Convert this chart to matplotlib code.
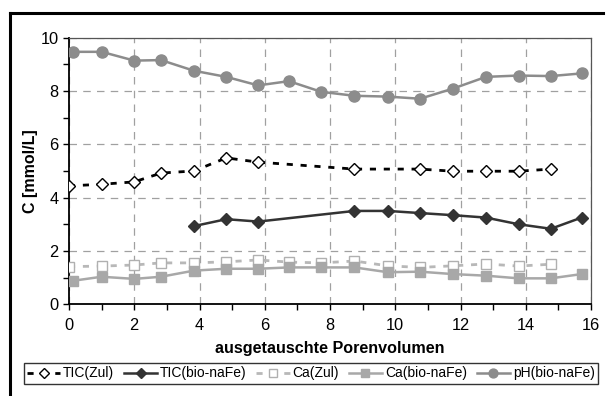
import matplotlib
matplotlib.use('Agg')
import matplotlib.pyplot as plt
from matplotlib.lines import Line2D
from matplotlib.ticker import MultipleLocator

plt.rcParams['font.family'] = ['Liberation Sans', 'DejaVu Sans']

# pore volumes exchanged
x_zul = [0, 1.0, 2.0, 2.82, 3.83, 4.82, 5.8, 8.75, 10.76, 11.77, 12.78, 13.78, 14.77]
tic_zul = [4.44, 4.5, 4.59, 4.92, 5.0, 5.49, 5.33, 5.07, 5.07, 4.99, 4.99, 4.99, 5.07]

x_tic_bio = [3.83, 4.82, 5.8, 8.75, 9.77, 10.76, 11.77, 12.78, 13.78, 14.77, 15.71]
tic_bio = [2.93, 3.19, 3.10, 3.50, 3.50, 3.42, 3.34, 3.25, 3.0, 2.83, 3.25]

x_ca_zul = [0, 1.0, 2.0, 2.82, 3.83, 4.82, 5.8, 6.74, 7.73, 8.75, 9.77, 10.76, 11.77, 12.78, 13.78, 14.77]
ca_zul = [1.41, 1.43, 1.47, 1.55, 1.55, 1.59, 1.66, 1.58, 1.55, 1.62, 1.44, 1.38, 1.44, 1.51, 1.43, 1.5]

x_bio = [0.13, 1.0, 2.0, 2.82, 3.83, 4.82, 5.8, 6.74, 7.73, 8.75, 9.77, 10.76, 11.77, 12.78, 13.78, 14.77, 15.71]
ca_bio = [0.88, 1.03, 0.95, 1.03, 1.26, 1.33, 1.33, 1.38, 1.38, 1.38, 1.20, 1.22, 1.13, 1.07, 0.97, 0.97, 1.13]
ph_bio = [9.47, 9.47, 9.14, 9.16, 8.76, 8.53, 8.21, 8.37, 7.97, 7.82, 7.79, 7.71, 8.09, 8.53, 8.58, 8.56, 8.66]

W, H = 606, 396
fig = plt.figure(figsize=(W / 100, H / 100), dpi=100)
ax = fig.add_axes([69 / W, 1 - 304.2 / H, (591 - 69) / W, (304.2 - 37.7) / H])

ax.plot(x_zul, tic_zul, color='black', linestyle=(0, (2.2, 2.8)), linewidth=2,
        marker='D', markersize=6, markerfacecolor='white', markeredgecolor='black',
        markeredgewidth=1, label='TIC(Zul)', zorder=5)
ax.plot(x_tic_bio, tic_bio, color='#333333', linewidth=1.8,
        marker='D', markersize=6.5, markerfacecolor='#333333', markeredgecolor='#333333',
        label='TIC(bio-naFe)', zorder=5)
ax.plot(x_ca_zul, ca_zul, color='#b8b8b8', linestyle=(0, (2.2, 2.8)), linewidth=2,
        marker='s', markersize=6.5, markerfacecolor='white', markeredgecolor='#b0b0b0',
        markeredgewidth=1, label='Ca(Zul)', zorder=4)
ax.plot(x_bio, ca_bio, color='#a8a8a8', linewidth=1.8,
        marker='s', markersize=7, markerfacecolor='#a8a8a8', markeredgecolor='#a8a8a8',
        label='Ca(bio-naFe)', zorder=4)
ax.plot(x_bio, ph_bio, color='#8c8c8c', linewidth=1.8,
        marker='o', markersize=8, markerfacecolor='#8c8c8c', markeredgecolor='#8c8c8c',
        label='pH(bio-naFe)', zorder=4)

ax.set_xlim(0, 16)
ax.set_ylim(0, 10)
ax.xaxis.set_major_locator(MultipleLocator(2))
ax.xaxis.set_minor_locator(MultipleLocator(1))
ax.yaxis.set_major_locator(MultipleLocator(2))
ax.yaxis.set_minor_locator(MultipleLocator(1))
ax.tick_params(which='both', direction='out', length=4, width=1, colors='black',
               labelsize=11.8)
ax.tick_params(axis='x', pad=6)
ax.grid(True, which='major', color='#a0a0a0', linestyle=(0, (6, 5)), linewidth=0.9)
ax.set_axisbelow(True)

for side in ['top', 'right']:
    ax.spines[side].set_color('#555555')
    ax.spines[side].set_linewidth(0.9)
for side in ['left', 'bottom']:
    ax.spines[side].set_color('black')
    ax.spines[side].set_linewidth(1.3)

ax.set_xlabel('ausgetauschte Porenvolumen', fontsize=11.6, fontweight='bold', labelpad=6)
ax.set_ylabel('C [mmol/L]', fontsize=11.5, fontweight='bold', labelpad=2)

leg = fig.legend(loc='center', bbox_to_anchor=((20.7 + 601) / 2 / W, 1 - 373.5 / H),
                 ncol=5, fontsize=10, frameon=True, fancybox=False, edgecolor='black',
                 handlelength=2.4, handletextpad=0.2, columnspacing=0.7,
                 borderpad=0.25, borderaxespad=0, markerscale=0.8)
leg.get_frame().set_linewidth(1.0)

# outer chart frame (top and left visible)
fig.add_artist(Line2D([9.5 / W, 603 / W], [1 - 12.5 / H, 1 - 12.5 / H],
                      color='black', linewidth=2.2, transform=fig.transFigure))
fig.add_artist(Line2D([9.5 / W, 9.5 / W], [1 - 12.5 / H, 0],
                      color='black', linewidth=2.2, transform=fig.transFigure))

fig.savefig('out.png', dpi=100)
